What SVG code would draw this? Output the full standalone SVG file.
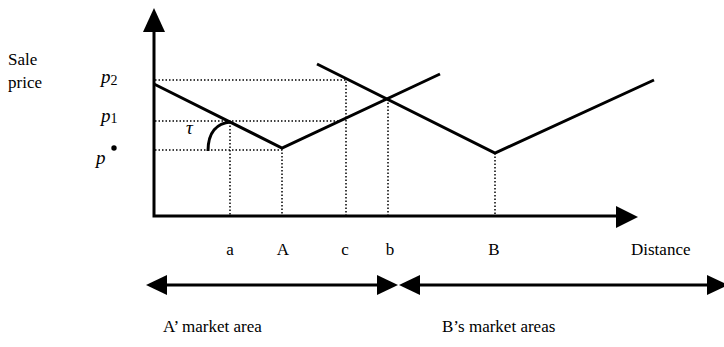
<svg xmlns="http://www.w3.org/2000/svg" width="724" height="347" viewBox="0 0 724 347">
<style>
text{font-family:"Liberation Serif","Times New Roman",serif;font-size:17px;fill:#000}
.it{font-style:italic;font-size:19px}
.sub{font-size:14px}
.axis{stroke:#000;stroke-width:3;fill:none}
.curve{stroke:#000;stroke-width:3;fill:none;stroke-linejoin:miter}
.dot{stroke:#000;stroke-width:1.5;stroke-dasharray:1.5 2;fill:none}
.head{fill:#000}
</style>
<rect width="724" height="347" fill="#fff"/>
<g id="axes">
<path class="axis" d="M154,30 V216 H620"/>
<polygon class="head" points="154,8 143,32 165,32"/>
<polygon class="head" points="638,217 616,206 616,228"/>
</g>
<g id="guides">
<path class="dot" d="M155,80 H346 V215"/>
<path class="dot" d="M155,121 H338"/>
<path class="dot" d="M155,150 H282 V215"/>
<path class="dot" d="M230,122 V215"/>
<path class="dot" d="M388,99 V215"/>
<path class="dot" d="M495,153 V215"/>
</g>
<g id="connectors">
<polyline class="curve" points="154,84 282,148 440,74"/>
<polyline class="curve" points="317,64 495,153 654,80"/>
<path class="curve" d="M208,151 C208,132 217,123 231,122" stroke-width="2.5"/>
</g>
<g id="y-labels">
<text x="8" y="65">Sale</text>
<text x="8" y="88">price</text>
<text x="101" y="83" class="it">p<tspan class="sub" font-style="normal" dy="2">2</tspan></text>
<text x="101" y="122" class="it">p<tspan class="sub" font-style="normal" dy="1">1</tspan></text>
<text x="96" y="164" class="it">p</text>
<circle cx="114" cy="148" r="2.7" fill="#000"/>
<text x="186" y="134" class="it">τ</text>
</g>
<g id="x-labels">
<text x="230" y="255" text-anchor="middle">a</text>
<text x="283" y="255" text-anchor="middle">A</text>
<text x="345" y="255" text-anchor="middle">c</text>
<text x="390" y="255" text-anchor="middle">b</text>
<text x="494" y="255" text-anchor="middle">B</text>
<text x="631" y="255">Distance</text>
</g>
<g id="market-A">
<line class="axis" x1="166" y1="285" x2="378" y2="285"/>
<polygon class="head" points="146,285 167,275 167,295"/>
<polygon class="head" points="398,285 377,275 377,295"/>
<text x="163" y="332">A’ market area</text>
</g>
<g id="market-B">
<line class="axis" x1="419" y1="285" x2="708" y2="285"/>
<polygon class="head" points="399,285 420,275 420,295"/>
<polygon class="head" points="728,285 707,275 707,295"/>
<text x="442" y="332">B’s market areas</text>
</g>
</svg>
